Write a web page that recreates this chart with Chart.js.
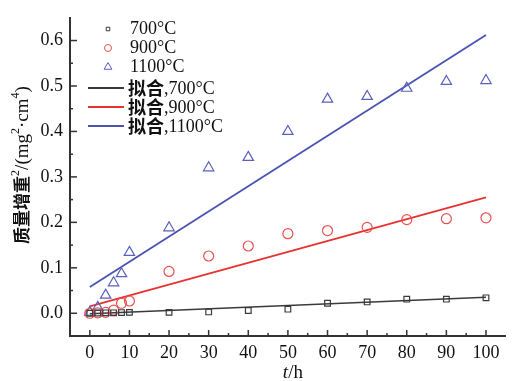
<!DOCTYPE html>
<html>
<head>
<meta charset="utf-8">
<script src="https://cdn.jsdelivr.net/npm/chart.js@4.4.1/dist/chart.umd.min.js"></script>
<style>
  html, body { margin: 0; padding: 0; background: #fff; }
  #wrap { width: 513px; height: 381px; position: relative; }
</style>
</head>
<body>
<div id="wrap"><canvas id="myChart" width="513" height="381"></canvas></div>
<script>
// data
const hours = [0, 2, 4, 6, 8, 10, 20, 30, 40, 50, 60, 70, 80, 90, 100];
const gain700 = [0, 0.0005, 0.001, 0.001, 0.0015, 0.002, 0.002, 0.003, 0.006, 0.009, 0.022, 0.025, 0.031, 0.031, 0.034];
const gain900 = [0, 0.001, 0.002, 0.007, 0.022, 0.027, 0.092, 0.126, 0.148, 0.175, 0.182, 0.189, 0.206, 0.208, 0.210];
const gain1100 = [0.002, 0.013, 0.04, 0.067, 0.087, 0.134, 0.188, 0.32, 0.343, 0.40, 0.471, 0.477, 0.495, 0.51, 0.512];
const fitHours = [0, 100];
const fit700 = [-0.001, 0.035];
const fit900 = [0.015, 0.255];
const fit1100 = [0.058, 0.612];
const xTicks = [0, 10, 20, 30, 40, 50, 60, 70, 80, 90, 100];
const yTicks = [0.0, 0.1, 0.2, 0.3, 0.4, 0.5, 0.6];
const legendNames = ['700°C', '900°C', '1100°C', ',700°C', ',900°C', ',1100°C'];

const SERIF = '"Liberation Serif", "DejaVu Serif", serif';
const CJK = '"Noto Sans CJK SC", sans-serif';

function pts(xs, ys) {
  return xs.map((x, i) => ({ x: x, y: ys[i] }));
}

const black = '#3a3a3a', red = '#e8322f', blue = '#4a52b4';

const datasets = [
  { label: legendNames[0], data: pts(hours, gain700), showLine: false, pointStyle: 'rect', pointRadius: 4, borderColor: black, borderWidth: 1.2, backgroundColor: 'transparent' },
  { label: legendNames[1], data: pts(hours, gain900), showLine: false, pointStyle: 'circle', pointRadius: 5, borderColor: '#e85050', borderWidth: 1.2, backgroundColor: 'transparent' },
  { label: legendNames[2], data: pts(hours, gain1100), showLine: false, pointStyle: 'triangle', pointRadius: 6, borderColor: '#5a60bc', borderWidth: 1.2, backgroundColor: 'transparent' },
  { label: legendNames[3], data: pts(fitHours, fit700), showLine: true, pointRadius: 0, borderColor: black, borderWidth: 1.5 },
  { label: legendNames[4], data: pts(fitHours, fit900), showLine: true, pointRadius: 0, borderColor: red, borderWidth: 1.8 },
  { label: legendNames[5], data: pts(fitHours, fit1100), showLine: true, pointRadius: 0, borderColor: blue, borderWidth: 1.8 }
];

// ticks, legend and axis titles drawn by hand
const decor = {
  id: 'decor',
  afterDraw(chart) {
    const ctx = chart.ctx;
    const xs = chart.scales.x, ys = chart.scales.y;
    const area = chart.chartArea;
    ctx.save();
    ctx.strokeStyle = '#333';
    ctx.lineWidth = 1.5;
    // inward ticks on x
    for (let v = 0; v <= 100; v += 5) {
      const px = xs.getPixelForValue(v);
      const len = v % 10 === 0 ? 6 : 3;
      ctx.beginPath(); ctx.moveTo(px, area.bottom); ctx.lineTo(px, area.bottom - len); ctx.stroke();
    }
    // inward ticks on y
    for (let k = 0; k <= 13; k++) {
      const v = -0.05 + k * 0.05;
      const py = ys.getPixelForValue(v);
      const len = k % 2 === 1 ? 7 : 3;
      ctx.beginPath(); ctx.moveTo(area.left, py); ctx.lineTo(area.left + len, py); ctx.stroke();
    }

    // legend
    const rows = [29, 48, 67, 88, 107, 126];
    ctx.textBaseline = 'middle';
    chart.data.datasets.forEach((ds, i) => {
      const y = rows[i];
      if (!ds.showLine) {
        ctx.strokeStyle = ds.borderColor;
        ctx.fillStyle = 'rgba(0,0,0,0)';
        ctx.lineWidth = 1;
        Chart.helpers.drawPoint(ctx, { pointStyle: ds.pointStyle, radius: ds.pointRadius - 1.5, borderWidth: 1 }, 108, y);
        ctx.fillStyle = '#111';
        ctx.font = '18px ' + SERIF;
        ctx.fillText(ds.label, 130, y);
      } else {
        ctx.strokeStyle = ds.borderColor;
        ctx.lineWidth = 2;
        ctx.beginPath(); ctx.moveTo(88, y); ctx.lineTo(124, y); ctx.stroke();
        ctx.fillStyle = '#111';
        ctx.font = 'bold 18px ' + CJK;
        ctx.fillText('拟合', 128, y);
        const w = ctx.measureText('拟合').width;
        ctx.font = '18px ' + SERIF;
        ctx.fillText(ds.label, 128 + w, y + 1);
      }
    });

    // x title
    ctx.fillStyle = '#111';
    ctx.textBaseline = 'alphabetic';
    ctx.font = 'italic 19px ' + SERIF;
    const tw = ctx.measureText('t').width;
    ctx.font = '19px ' + SERIF;
    const hw = ctx.measureText('/h').width;
    let sx = (area.left + area.right) / 2 + 5 - (tw + hw) / 2;
    ctx.font = 'italic 19px ' + SERIF;
    ctx.fillText('t', sx, 378);
    ctx.font = '19px ' + SERIF;
    ctx.fillText('/h', sx + tw, 378);

    // y title, rotated
    const parts = [
      { t: '质量增重', f: 'bold 17px ' + CJK, dy: 0 },
      { t: '2', f: '12px ' + SERIF, dy: -9 },
      { t: '/(mg', f: '19px ' + SERIF, dy: 0 },
      { t: '2', f: '12px ' + SERIF, dy: -9 },
      { t: '·cm', f: '19px ' + SERIF, dy: 0 },
      { t: '4', f: '12px ' + SERIF, dy: -9 },
      { t: ')', f: '19px ' + SERIF, dy: 0 }
    ];
    let total = 0;
    parts.forEach(p => { ctx.font = p.f; p.w = ctx.measureText(p.t).width; total += p.w; });
    ctx.translate(28, 165);
    ctx.rotate(-Math.PI / 2);
    let cx = -total / 2;
    parts.forEach(p => { ctx.font = p.f; ctx.fillText(p.t, cx, p.dy); cx += p.w; });
    ctx.restore();
  }
};

const ctx = document.getElementById('myChart').getContext('2d');
const myChart = new Chart(ctx, {
  type: 'scatter',
  data: { datasets: datasets },
  options: {
    responsive: false,
    animation: false,
    layout: { padding: { top: 10, right: 3, left: 0, bottom: 0 } },
    plugins: { legend: { display: false }, tooltip: { enabled: false } },
    scales: {
      x: {
        type: 'linear', min: -5, max: 105,
        afterBuildTicks: s => { s.ticks = xTicks.map(v => ({ value: v })); },
        afterFit: s => { s.height = 45; },
        grid: { display: false, drawTicks: false },
        border: { display: true, color: '#333', width: 2 },
        ticks: { color: '#111', font: { family: SERIF, size: 18 }, padding: 6, maxRotation: 0 }
      },
      y: {
        type: 'linear', min: -0.05, max: 0.65,
        afterBuildTicks: s => { s.ticks = yTicks.map(v => ({ value: v })); },
        afterFit: s => { s.width = 70; },
        grid: { display: false, drawTicks: false },
        border: { display: true, color: '#333', width: 2 },
        ticks: { color: '#111', font: { family: SERIF, size: 18 }, padding: 7, callback: v => v.toFixed(1) }
      }
    }
  },
  plugins: [decor]
});
</script>
</body>
</html>
